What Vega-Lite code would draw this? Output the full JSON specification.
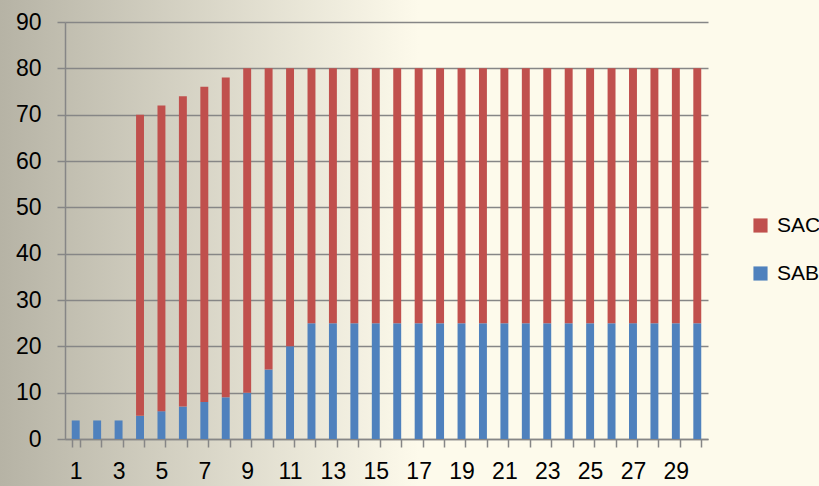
{
  "$schema": "https://vega.github.io/schema/vega-lite/v6.json",
  "autosize": "none",
  "width": 643,
  "height": 417,
  "padding": {"left": 65, "top": 22, "right": 111, "bottom": 47},
  "config": {
    "font": "Liberation Sans",
    "view": {
      "fill": {"gradient": "linear", "x1": -0.101, "y1": 0, "x2": 0.55, "y2": 0, "stops": [{"offset": 0, "color": "#b6b3a5"}, {"offset": 1, "color": "#fdfaeb"}]},
      "stroke": {"gradient": "linear", "x1": -0.101, "y1": 0, "x2": 0.55, "y2": 0, "stops": [{"offset": 0, "color": "#b6b3a5"}, {"offset": 1, "color": "#fdfaeb"}]},
      "strokeWidth": 400
    },
    "axis": {"labelFont": "Liberation Sans", "labelFontSize": 23, "labelColor": "#000000", "domainColor": "#868686", "domainWidth": 1.5, "tickColor": "#868686", "tickWidth": 1.5, "tickSize": 8, "gridColor": "#868686", "gridWidth": 1.5, "gridOpacity": 1}
  },
  "data": {"values": [
    {"t": 1, "series": "SAB", "v": 4},
    {"t": 2, "series": "SAB", "v": 4},
    {"t": 3, "series": "SAB", "v": 4},
    {"t": 4, "series": "SAB", "v": 5},
    {"t": 5, "series": "SAB", "v": 6},
    {"t": 6, "series": "SAB", "v": 7},
    {"t": 7, "series": "SAB", "v": 8},
    {"t": 8, "series": "SAB", "v": 9},
    {"t": 9, "series": "SAB", "v": 10},
    {"t": 10, "series": "SAB", "v": 15},
    {"t": 11, "series": "SAB", "v": 20},
    {"t": 12, "series": "SAB", "v": 25},
    {"t": 13, "series": "SAB", "v": 25},
    {"t": 14, "series": "SAB", "v": 25},
    {"t": 15, "series": "SAB", "v": 25},
    {"t": 16, "series": "SAB", "v": 25},
    {"t": 17, "series": "SAB", "v": 25},
    {"t": 18, "series": "SAB", "v": 25},
    {"t": 19, "series": "SAB", "v": 25},
    {"t": 20, "series": "SAB", "v": 25},
    {"t": 21, "series": "SAB", "v": 25},
    {"t": 22, "series": "SAB", "v": 25},
    {"t": 23, "series": "SAB", "v": 25},
    {"t": 24, "series": "SAB", "v": 25},
    {"t": 25, "series": "SAB", "v": 25},
    {"t": 26, "series": "SAB", "v": 25},
    {"t": 27, "series": "SAB", "v": 25},
    {"t": 28, "series": "SAB", "v": 25},
    {"t": 29, "series": "SAB", "v": 25},
    {"t": 30, "series": "SAB", "v": 25},
    {"t": 4, "series": "SAC", "v": 65},
    {"t": 5, "series": "SAC", "v": 66},
    {"t": 6, "series": "SAC", "v": 67},
    {"t": 7, "series": "SAC", "v": 68},
    {"t": 8, "series": "SAC", "v": 69},
    {"t": 9, "series": "SAC", "v": 70},
    {"t": 10, "series": "SAC", "v": 65},
    {"t": 11, "series": "SAC", "v": 60},
    {"t": 12, "series": "SAC", "v": 55},
    {"t": 13, "series": "SAC", "v": 55},
    {"t": 14, "series": "SAC", "v": 55},
    {"t": 15, "series": "SAC", "v": 55},
    {"t": 16, "series": "SAC", "v": 55},
    {"t": 17, "series": "SAC", "v": 55},
    {"t": 18, "series": "SAC", "v": 55},
    {"t": 19, "series": "SAC", "v": 55},
    {"t": 20, "series": "SAC", "v": 55},
    {"t": 21, "series": "SAC", "v": 55},
    {"t": 22, "series": "SAC", "v": 55},
    {"t": 23, "series": "SAC", "v": 55},
    {"t": 24, "series": "SAC", "v": 55},
    {"t": 25, "series": "SAC", "v": 55},
    {"t": 26, "series": "SAC", "v": 55},
    {"t": 27, "series": "SAC", "v": 55},
    {"t": 28, "series": "SAC", "v": 55},
    {"t": 29, "series": "SAC", "v": 55},
    {"t": 30, "series": "SAC", "v": 55}
  ]},
  "mark": {"type": "bar"},
  "encoding": {
    "x": {
      "field": "t", "type": "ordinal",
      "scale": {"paddingInner": 0.63, "paddingOuter": 0.315},
      "axis": {"title": null, "labelAngle": 0, "tickBand": "extent", "grid": false, "labelPadding": 13, "labelExpr": "datum.value % 2 == 1 ? datum.label : ''", "labelBaseline": "top"}
    },
    "y": {
      "field": "v", "type": "quantitative", "aggregate": "sum",
      "scale": {"domain": [0, 90], "nice": false},
      "axis": {"title": null, "values": [0, 10, 20, 30, 40, 50, 60, 70, 80, 90], "labelPadding": 16, "grid": true}
    },
    "color": {
      "field": "series", "type": "nominal",
      "scale": {"domain": ["SAC", "SAB"], "range": ["#c0504d", "#4f81bd"]},
      "legend": {"title": null, "orient": "none", "legendX": 685, "legendY": 193, "padding": 0, "symbolType": "square", "symbolSize": 200, "symbolStrokeWidth": 0, "labelFontSize": 21, "labelFont": "Liberation Sans", "labelColor": "#000000", "labelOffset": 6, "rowPadding": 26, "symbolOpacity": 1}
    },
    "order": {"field": "series", "sort": "ascending"}
  }
}
